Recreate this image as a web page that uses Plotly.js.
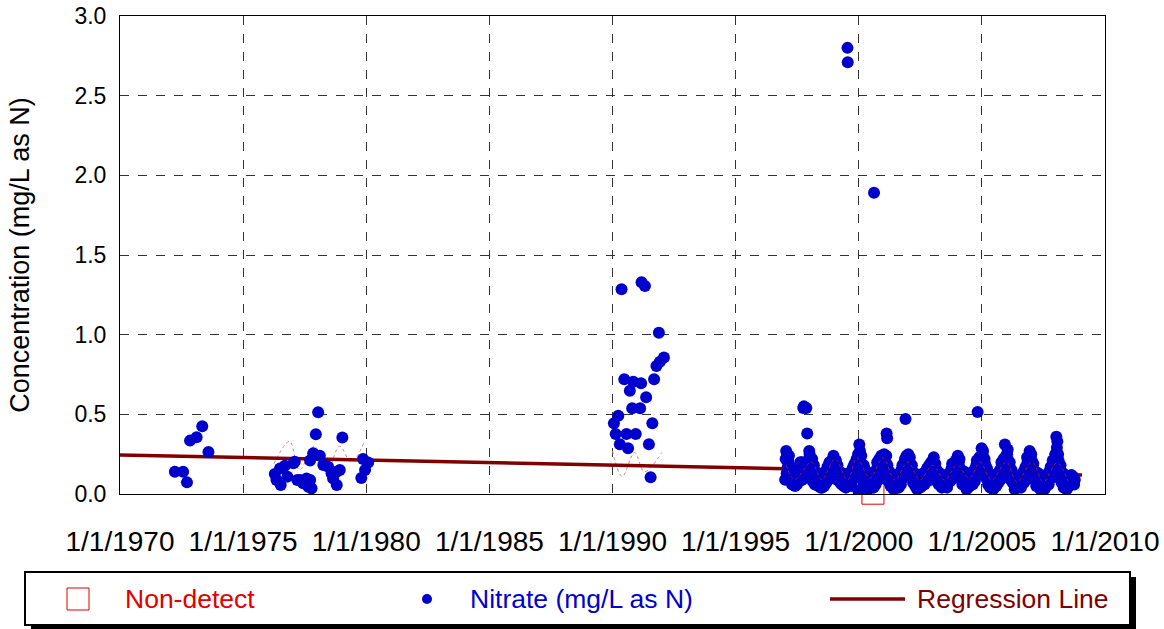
<!DOCTYPE html>
<html>
<head>
<meta charset="utf-8">
<script src="https://cdn.plot.ly/plotly-3.0.1.min.js"></script>
<style>html,body{margin:0;padding:0;background:#fff;}#chart{width:1164px;height:629px;}</style>
</head>
<body>
<div id="chart"></div>
<script>
// ---- Data ----
const xTickVals = ['1970-01-01','1975-01-01','1980-01-01','1985-01-01','1990-01-01','1995-01-01','2000-01-01','2005-01-01','2010-01-01'];
const xTickText = ['1/1/1970','1/1/1975','1/1/1980','1/1/1985','1/1/1990','1/1/1995','1/1/2000','1/1/2005','1/1/2010'];
const yTickVals = [0,0.5,1.0,1.5,2.0,2.5,3.0];

// Nitrate samples 1972-1980
const nitrateDatesEarly = [
 '1972-03-25','1972-07-25','1972-09-20','1972-11-05','1973-02-10','1973-05-05','1973-08-05',
 '1976-04-15','1976-05-10','1976-07-01','1976-07-12','1976-09-12','1976-10-20','1977-01-15','1977-02-05',
 '1977-03-15','1977-04-20','1977-06-10','1977-07-30','1977-08-25','1977-09-20','1977-09-21','1977-10-12',
 '1977-11-05','1977-12-15','1978-01-18','1978-02-12','1978-04-05','1978-06-15','1978-08-05','1978-08-28',
 '1978-10-20','1978-10-21','1978-12-05','1979-01-12','1979-10-20','1979-11-15','1979-12-15','1980-01-30'
];
const nitrateValuesEarly = [
 0.14,0.14,0.073,0.335,0.356,0.425,0.264,
 0.125,0.088,0.16,0.056,0.178,0.109,0.193,0.203,
 0.088,0.088,0.067,0.098,0.046,0.21,0.088,0.036,
 0.255,0.375,0.513,0.24,0.182,0.171,0.13,0.098,
 0.14,0.056,0.15,0.354,0.10,0.22,0.15,0.197
];

// Nitrate samples 1990-1992
const nitrateDates1990 = [
 '1990-01-22','1990-02-17','1990-03-28','1990-04-20','1990-05-15','1990-06-25','1990-07-27','1990-08-20',
 '1990-09-15','1990-10-20','1990-11-05','1990-12-12','1991-02-15','1991-03-01','1991-03-08','1991-04-27',
 '1991-05-15','1991-06-25','1991-07-20','1991-08-15','1991-09-10','1991-10-15','1991-11-20','1991-12-05','1992-02-03'
];
const nitrateValues1990 = [
 0.444,0.377,0.491,0.312,1.285,0.72,0.377,0.287,
 0.648,0.538,0.705,0.377,0.538,0.695,1.329,1.305,
 0.607,0.312,0.105,0.444,0.72,0.803,1.012,0.83,0.856
];

// Nitrate samples 1997-2008 (first set)
const nitrateDatesLate = [
 '1997-01-05','1997-01-20','1997-02-05','1997-02-20','1997-03-10','1997-03-25','1997-04-10','1997-04-28','1997-05-15','1997-06-01','1997-06-20','1997-07-05','1997-07-25','1997-08-10','1997-08-25','1997-09-10','1997-09-30','1997-10-10','1997-11-15','1997-11-28','1997-12-10','1997-12-28',
 '1998-01-10','1998-01-25','1998-02-10','1998-02-25','1998-03-15','1998-03-30','1998-04-15','1998-05-01','1998-05-15','1998-06-01','1998-06-15','1998-07-01','1998-07-15','1998-08-01','1998-08-15','1998-09-01','1998-09-15','1998-10-01','1998-10-15','1998-11-01','1998-11-15','1998-12-01','1998-12-15',
 '1999-01-05','1999-01-20','1999-02-05','1999-02-20','1999-03-10','1999-03-25','1999-04-10','1999-04-25','1999-05-10','1999-05-25','1999-06-10','1999-06-25','1999-07-10','1999-07-18','1999-07-22','1999-08-01','1999-08-15','1999-09-01','1999-09-15','1999-10-01','1999-10-15','1999-11-01','1999-11-15','1999-12-01','1999-12-15','1999-12-30',
 '2000-01-10','2000-01-20','2000-02-01','2000-02-15','2000-03-01','2000-03-15','2000-04-01','2000-04-15','2000-05-01','2000-05-15','2000-06-01','2000-06-15','2000-07-01','2000-07-15','2000-08-01','2000-08-15','2000-09-01','2000-09-15','2000-10-01','2000-10-15','2000-11-01','2000-11-15','2000-12-01','2000-12-15',
 '2001-01-05','2001-01-20','2001-02-05','2001-02-18','2001-02-25','2001-03-10','2001-03-25','2001-04-10','2001-04-25','2001-05-10','2001-05-25','2001-06-10','2001-06-25','2001-07-10','2001-07-25','2001-08-10','2001-08-25','2001-09-10','2001-09-25','2001-10-10','2001-10-25','2001-11-10','2001-11-25','2001-12-10','2001-12-25',
 '2002-01-05','2002-01-20','2002-02-05','2002-02-20','2002-03-10','2002-03-25','2002-04-10','2002-04-25','2002-05-10','2002-05-25','2002-06-10','2002-06-25','2002-07-10','2002-07-25','2002-08-10','2002-08-25','2002-09-10','2002-09-25','2002-10-10','2002-10-25','2002-11-10','2002-11-25','2002-12-10','2002-12-25',
 '2003-01-10','2003-01-25','2003-02-10','2003-02-25','2003-03-10','2003-03-25','2003-04-10','2003-04-25','2003-05-10','2003-05-25','2003-06-10','2003-06-25','2003-07-10','2003-07-25','2003-08-10','2003-08-25','2003-09-10','2003-09-25','2003-10-10','2003-10-25','2003-11-10','2003-11-25','2003-12-10','2003-12-25',
 '2004-01-10','2004-01-25','2004-02-10','2004-02-25','2004-03-10','2004-03-25','2004-04-10','2004-04-25','2004-05-10','2004-05-25','2004-06-10','2004-06-25','2004-07-10','2004-07-25','2004-08-10','2004-08-25','2004-09-10','2004-09-25','2004-10-10','2004-10-25','2004-10-30','2004-11-15','2004-12-01','2004-12-28',
 '2005-01-10','2005-01-25','2005-02-10','2005-02-25','2005-03-10','2005-03-25','2005-04-10','2005-04-25','2005-05-10','2005-05-25','2005-06-10','2005-06-25','2005-07-10','2005-07-25','2005-08-10','2005-08-25','2005-09-10','2005-09-25','2005-10-10','2005-10-25','2005-11-10','2005-11-25','2005-12-08','2005-12-25',
 '2006-01-10','2006-01-25','2006-02-10','2006-02-25','2006-03-10','2006-03-25','2006-04-10','2006-04-25','2006-05-10','2006-05-25','2006-06-10','2006-06-25','2006-07-10','2006-07-25','2006-08-10','2006-08-25','2006-09-10','2006-09-25','2006-10-10','2006-10-25','2006-11-10','2006-11-25','2006-12-10','2006-12-25',
 '2007-01-10','2007-01-25','2007-02-10','2007-02-25','2007-03-10','2007-03-25','2007-04-10','2007-04-25','2007-05-10','2007-05-25','2007-06-10','2007-06-25','2007-07-10','2007-07-25','2007-08-10','2007-08-25','2007-09-10','2007-09-25','2007-10-10','2007-10-25','2007-11-10','2007-11-25','2007-12-10','2007-12-25',
 '2008-01-10','2008-01-25','2008-02-05','2008-02-20','2008-03-05','2008-03-20','2008-04-05','2008-04-20','2008-05-05','2008-05-20','2008-06-05','2008-06-20','2008-07-05','2008-07-20','2008-08-05','2008-08-20','2008-09-05','2008-09-25'
];
const nitrateValuesLate = [
 0.09,0.27,0.25,0.21,0.18,0.15,0.12,0.09,0.07,0.05,0.08,0.11,0.13,0.16,0.12,0.20,0.54,0.55,0.54,0.38,0.21,0.27,
 0.20,0.15,0.22,0.12,0.10,0.14,0.07,0.11,0.05,0.08,0.04,0.09,0.06,0.12,0.08,0.14,0.10,0.17,0.13,0.19,0.15,0.21,0.17,
 0.20,0.16,0.13,0.18,0.11,0.09,0.12,0.06,0.10,0.05,0.07,0.04,0.08,2.80,2.71,0.11,0.06,0.13,0.09,0.16,0.12,0.19,0.14,0.22,0.17,0.015,
 0.31,0.27,0.20,0.15,0.12,0.18,0.08,0.11,0.05,0.09,0.04,0.07,0.10,0.06,0.12,1.89,0.09,0.15,0.20,0.13,0.22,0.17,0.24,0.19,
 0.22,0.16,0.20,0.38,0.35,0.14,0.11,0.08,0.12,0.06,0.04,0.09,0.05,0.07,0.10,0.06,0.12,0.09,0.15,0.18,0.13,0.20,0.47,0.24,0.18,
 0.25,0.21,0.17,0.14,0.11,0.09,0.13,0.07,0.05,0.08,0.04,0.06,0.09,0.05,0.11,0.08,0.13,0.10,0.16,0.12,0.18,0.14,0.20,0.16,
 0.20,0.17,0.19,0.14,0.12,0.10,0.08,0.11,0.06,0.09,0.05,0.08,0.10,0.06,0.09,0.12,0.10,0.14,0.16,0.12,0.19,0.15,0.21,0.17,
 0.24,0.20,0.16,0.13,0.11,0.09,0.12,0.07,0.05,0.08,0.04,0.07,0.10,0.06,0.09,0.12,0.15,0.11,0.18,0.14,0.515,0.20,0.16,0.287,
 0.25,0.20,0.22,0.17,0.13,0.11,0.08,0.12,0.06,0.09,0.05,0.07,0.10,0.08,0.12,0.09,0.14,0.11,0.16,0.13,0.19,0.15,0.31,0.24,
 0.25,0.21,0.18,0.14,0.12,0.09,0.11,0.06,0.04,0.08,0.05,0.07,0.09,0.06,0.11,0.13,0.10,0.15,0.17,0.13,0.20,0.16,0.27,0.22,
 0.21,0.18,0.15,0.12,0.10,0.08,0.11,0.06,0.04,0.07,0.05,0.08,0.09,0.06,0.11,0.08,0.13,0.10,0.15,0.12,0.18,0.14,0.21,0.25,
 0.36,0.33,0.25,0.19,0.15,0.12,0.09,0.13,0.07,0.10,0.05,0.08,0.11,0.07,0.09,0.12,0.10,0.08
];

// Nitrate samples 1997-2008 (second set)
const nitrateDatesLate2 = [
 '1997-01-12','1997-01-28','1997-02-12','1997-03-02','1997-03-18','1997-04-02','1997-04-18','1997-05-08','1997-05-25','1997-06-10','1997-06-28','1997-07-15','1997-08-02','1997-08-18','1997-09-02','1997-09-18','1997-10-20','1997-11-05','1997-12-02','1997-12-18',
 '1998-01-03','1998-01-18','1998-02-03','1998-02-18','1998-03-07','1998-03-22','1998-04-07','1998-04-23','1998-05-08','1998-05-23','1998-06-08','1998-06-23','1998-07-08','1998-07-23','1998-08-08','1998-08-23','1998-09-08','1998-09-23','1998-10-08','1998-10-23','1998-11-08','1998-11-23','1998-12-08','1998-12-23',
 '1999-01-12','1999-01-28','1999-02-12','1999-02-28','1999-03-17','1999-04-02','1999-04-17','1999-05-02','1999-05-17','1999-06-02','1999-06-17','1999-07-02','1999-07-30','1999-08-08','1999-08-23','1999-09-08','1999-09-23','1999-10-08','1999-10-23','1999-11-08','1999-11-23','1999-12-08','1999-12-22',
 '2000-01-05','2000-01-15','2000-01-28','2000-02-08','2000-02-22','2000-03-08','2000-03-22','2000-04-08','2000-04-22','2000-05-08','2000-05-22','2000-06-08','2000-06-22','2000-07-08','2000-07-22','2000-08-08','2000-08-22','2000-09-08','2000-09-22','2000-10-08','2000-10-22','2000-11-08','2000-11-22','2000-12-08','2000-12-22',
 '2001-01-12','2001-01-28','2001-02-12','2001-03-02','2001-03-17','2001-04-02','2001-04-17','2001-05-02','2001-05-17','2001-06-02','2001-06-17','2001-07-02','2001-07-17','2001-08-02','2001-08-17','2001-09-02','2001-09-17','2001-10-02','2001-10-17','2001-11-02','2001-11-17','2001-12-02','2001-12-17',
 '2002-01-12','2002-01-28','2002-02-12','2002-02-28','2002-03-17','2002-04-02','2002-04-17','2002-05-02','2002-05-17','2002-06-02','2002-06-17','2002-07-02','2002-07-17','2002-08-02','2002-08-17','2002-09-02','2002-09-17','2002-10-02','2002-10-17','2002-11-02','2002-11-17','2002-12-02','2002-12-17',
 '2003-01-03','2003-01-18','2003-02-03','2003-02-18','2003-03-03','2003-03-18','2003-04-03','2003-04-18','2003-05-03','2003-05-18','2003-06-03','2003-06-18','2003-07-03','2003-07-18','2003-08-03','2003-08-18','2003-09-03','2003-09-18','2003-10-03','2003-10-18','2003-11-03','2003-11-18','2003-12-03','2003-12-18',
 '2004-01-03','2004-01-18','2004-02-03','2004-02-18','2004-03-03','2004-03-18','2004-04-03','2004-04-18','2004-05-03','2004-05-18','2004-06-03','2004-06-18','2004-07-03','2004-07-18','2004-08-03','2004-08-18','2004-09-03','2004-09-18','2004-10-03','2004-10-18','2004-11-05','2004-11-25','2004-12-10',
 '2005-01-03','2005-01-18','2005-02-03','2005-02-18','2005-03-03','2005-03-18','2005-04-03','2005-04-18','2005-05-03','2005-05-18','2005-06-03','2005-06-18','2005-07-03','2005-07-18','2005-08-03','2005-08-18','2005-09-03','2005-09-18','2005-10-03','2005-10-18','2005-11-03','2005-11-18','2005-12-03','2005-12-18',
 '2006-01-03','2006-01-18','2006-02-03','2006-02-18','2006-03-03','2006-03-18','2006-04-03','2006-04-18','2006-05-03','2006-05-18','2006-06-03','2006-06-18','2006-07-03','2006-07-18','2006-08-03','2006-08-18','2006-09-03','2006-09-18','2006-10-03','2006-10-18','2006-11-03','2006-11-18','2006-12-03','2006-12-18',
 '2007-01-03','2007-01-18','2007-02-03','2007-02-18','2007-03-03','2007-03-18','2007-04-03','2007-04-18','2007-05-03','2007-05-18','2007-06-03','2007-06-18','2007-07-03','2007-07-18','2007-08-03','2007-08-18','2007-09-03','2007-09-18','2007-10-03','2007-10-18','2007-11-03','2007-11-18','2007-12-03','2007-12-18',
 '2008-01-03','2008-01-18','2008-02-01','2008-02-12','2008-02-28','2008-03-12','2008-03-28','2008-04-12','2008-04-28','2008-05-12','2008-05-28','2008-06-12','2008-06-28','2008-07-12','2008-07-28','2008-08-12','2008-08-28','2008-09-12','2008-09-30','2008-10-10'
];
const nitrateValuesLate2 = [
 0.22,0.13,0.17,0.24,0.10,0.16,0.06,0.12,0.10,0.13,0.06,0.16,0.08,0.20,0.14,0.09,0.15,0.12,0.13,0.19,
 0.25,0.11,0.17,0.08,0.18,0.06,0.13,0.10,0.08,0.12,0.07,0.10,0.04,0.13,0.05,0.10,0.07,0.17,0.09,0.20,0.11,0.18,0.13,0.24,
 0.14,0.21,0.09,0.15,0.14,0.07,0.09,0.13,0.07,0.10,0.08,0.06,0.10,0.13,0.08,0.11,0.05,0.10,0.18,0.11,0.20,0.15,0.25,
 0.22,0.17,0.12,0.24,0.09,0.14,0.06,0.15,0.07,0.12,0.03,0.10,0.05,0.13,0.08,0.04,0.11,0.06,0.12,0.16,0.09,0.19,0.13,0.21,0.15,
 0.25,0.12,0.24,0.18,0.08,0.14,0.05,0.10,0.08,0.03,0.11,0.04,0.08,0.12,0.04,0.10,0.06,0.14,0.10,0.16,0.22,0.19,0.14,
 0.19,0.23,0.12,0.18,0.07,0.11,0.05,0.10,0.03,0.07,0.09,0.04,0.07,0.06,0.13,0.06,0.09,0.12,0.08,0.14,0.10,0.17,0.12,
 0.14,0.23,0.13,0.16,0.08,0.14,0.06,0.13,0.08,0.04,0.11,0.07,0.05,0.12,0.04,0.07,0.13,0.08,0.11,0.19,0.13,0.10,0.17,0.13,
 0.18,0.15,0.22,0.10,0.15,0.06,0.09,0.14,0.09,0.03,0.07,0.10,0.05,0.08,0.13,0.06,0.10,0.08,0.13,0.21,0.12,0.23,0.19,
 0.22,0.27,0.14,0.19,0.10,0.16,0.06,0.10,0.04,0.08,0.09,0.03,0.06,0.12,0.05,0.10,0.07,0.12,0.09,0.20,0.12,0.22,0.17,0.20,
 0.22,0.28,0.13,0.20,0.09,0.15,0.07,0.09,0.03,0.06,0.09,0.04,0.07,0.11,0.04,0.08,0.12,0.07,0.13,0.09,0.23,0.12,0.18,0.24,
 0.25,0.14,0.19,0.09,0.14,0.05,0.08,0.13,0.06,0.03,0.09,0.05,0.11,0.03,0.07,0.05,0.10,0.06,0.12,0.17,0.10,0.21,0.16,0.19,
 0.22,0.29,0.17,0.21,0.12,0.18,0.07,0.10,0.04,0.12,0.06,0.03,0.10,0.05,0.09,0.06,0.10,0.11,0.06,0.09
];

// Non-detect sample
const nonDetectDates = ['2000-07-30'];
const nonDetectValues = [0.005];

// Regression line end points
const regressionDates = ['1970-01-01','2009-01-25'];
const regressionValues = [0.245, 0.12];

// Seasonal smooth (thin dotted curves)
const smoothDates = ['1997-01-20','1997-05-25','1998-01-30','1998-07-01','1999-01-15','1999-07-20','1999-12-05','2000-06-15','2000-12-28','2001-06-20','2001-12-30','2002-07-01','2002-12-30','2003-07-01','2003-12-25','2004-07-01','2004-12-05','2005-05-25','2005-12-30','2006-06-05','2007-01-15','2007-07-01','2008-01-20','2008-07-01'];
const smoothValues = [0.18,0.09,0.20,0.088,0.22,0.088,0.226,0.10,0.226,0.088,0.20,0.088,0.18,0.088,0.18,0.10,0.20,0.088,0.20,0.076,0.20,0.076,0.196,0.08];
const smoothDates2 = ['1976-04-01','1976-11-20','1977-04-15','1977-11-25','1978-05-25','1978-12-01','1979-05-25','1979-11-25'];
const smoothValues2 = [0.19,0.33,0.15,0.30,0.14,0.30,0.20,0.32];
const smoothDates3 = ['1990-01-01','1990-05-25','1990-11-25','1991-04-20','1992-01-01'];
const smoothValues3 = [0.27,0.11,0.26,0.14,0.26];

// ---- Chart ----
const FONT = 'Liberation Sans, Arial, sans-serif';
const blue = '#0000CC', red = '#E00000', dred = '#800000';
const MS = 12;

const traces = [
  {x: nonDetectDates, y: nonDetectValues, type:'scatter', mode:'markers', cliponaxis:false,
   marker:{symbol:'square-open', size:22, color:red, line:{width:1, color:red}}, name:'Non-detect'},
  {x: smoothDates2, y: smoothValues2, type:'scatter', mode:'lines', line:{shape:'spline', color:'#D08080', width:1, dash:'dot'}, hoverinfo:'skip'},
  {x: smoothDates3, y: smoothValues3, type:'scatter', mode:'lines', line:{shape:'spline', color:'#D08080', width:1, dash:'dot'}, hoverinfo:'skip'},
  {x: regressionDates, y: regressionValues, type:'scatter', mode:'lines', line:{color:dred, width:3.5}, name:'Regression Line'},
  {x: nitrateDatesEarly, y: nitrateValuesEarly, type:'scatter', mode:'markers', marker:{color:blue, size:MS}, name:'Nitrate (mg/L as N)'},
  {x: nitrateDates1990, y: nitrateValues1990, type:'scatter', mode:'markers', marker:{color:blue, size:MS}},
  {x: nitrateDatesLate, y: nitrateValuesLate, type:'scatter', mode:'markers', marker:{color:blue, size:MS}},
  {x: nitrateDatesLate2, y: nitrateValuesLate2, type:'scatter', mode:'markers', marker:{color:blue, size:MS}},
  {x: smoothDates, y: smoothValues, type:'scatter', mode:'lines', line:{shape:'spline', color:'#A02020', width:1, dash:'dot'}, hoverinfo:'skip'}
];

// paper coordinate helpers (plot area: x 120..1105, y 16..494)
const px = v => (v - 120) / 985;
const py = v => (494 - v) / 478;

const legendY = 599;
const LF = 26.5;
const layout = {
  width:1164, height:629,
  margin:{l:120, r:59, t:16, b:135},
  paper_bgcolor:'#fff', plot_bgcolor:'#fff',
  showlegend:false,
  font:{family:FONT, color:'#000'},
  xaxis:{type:'date', range:['1970-01-01','2010-01-01'], tickmode:'array', tickvals:xTickVals, ticktext:xTickText,
    showgrid:true, gridcolor:'#333', griddash:'dash', gridwidth:1, showline:true, linecolor:'#000', linewidth:1, mirror:true,
    ticks:'', ticklabelstandoff:22, tickfont:{family:FONT, size:28, color:'#000'}, zeroline:false, fixedrange:true},
  yaxis:{range:[0,3], tickmode:'array', tickvals:yTickVals, tickformat:'.1f',
    showgrid:true, gridcolor:'#333', griddash:'dash', gridwidth:1, showline:true, linecolor:'#000', linewidth:1, mirror:true,
    ticks:'', ticklabelstandoff:8, tickfont:{family:FONT, size:23, color:'#000'}, zeroline:false, fixedrange:true,
    title:{text:'Concentration (mg/L as N)', font:{family:FONT, size:27, color:'#000'}, standoff:36}},
  shapes:[
    {type:'rect', xref:'paper', yref:'paper', x0:px(31), x1:px(1136), y0:py(577), y1:py(631), fillcolor:'#000', line:{width:0}, layer:'above'},
    {type:'rect', xref:'paper', yref:'paper', x0:px(25), x1:px(1130), y0:py(572), y1:py(625), fillcolor:'#fff', line:{color:'#000', width:2}, layer:'above'},
    {type:'rect', xref:'paper', yref:'paper', x0:px(67), x1:px(89), y0:py(588), y1:py(610), fillcolor:'rgba(0,0,0,0)', line:{color:red, width:1}, layer:'above'},
    {type:'circle', xref:'paper', yref:'paper', x0:px(422), x1:px(432), y0:py(594), y1:py(604), fillcolor:blue, line:{color:blue, width:0}, layer:'above'},
    {type:'line', xref:'paper', yref:'paper', x0:px(830), x1:px(905), y0:py(legendY), y1:py(legendY), line:{color:dred, width:3.5}, layer:'above'}
  ],
  annotations:[
    {xref:'paper', yref:'paper', x:px(123), y:py(legendY), xanchor:'left', yanchor:'middle', showarrow:false, text:'Non-detect', font:{family:FONT, size:LF, color:red}},
    {xref:'paper', yref:'paper', x:px(468), y:py(legendY), xanchor:'left', yanchor:'middle', showarrow:false, text:'Nitrate (mg/L as N)', font:{family:FONT, size:LF, color:blue}},
    {xref:'paper', yref:'paper', x:px(915), y:py(legendY), xanchor:'left', yanchor:'middle', showarrow:false, text:'Regression Line', font:{family:FONT, size:LF, color:dred}}
  ]
};

Plotly.newPlot('chart', traces, layout, {displayModeBar:false, staticPlot:true});
</script>
</body>
</html>
